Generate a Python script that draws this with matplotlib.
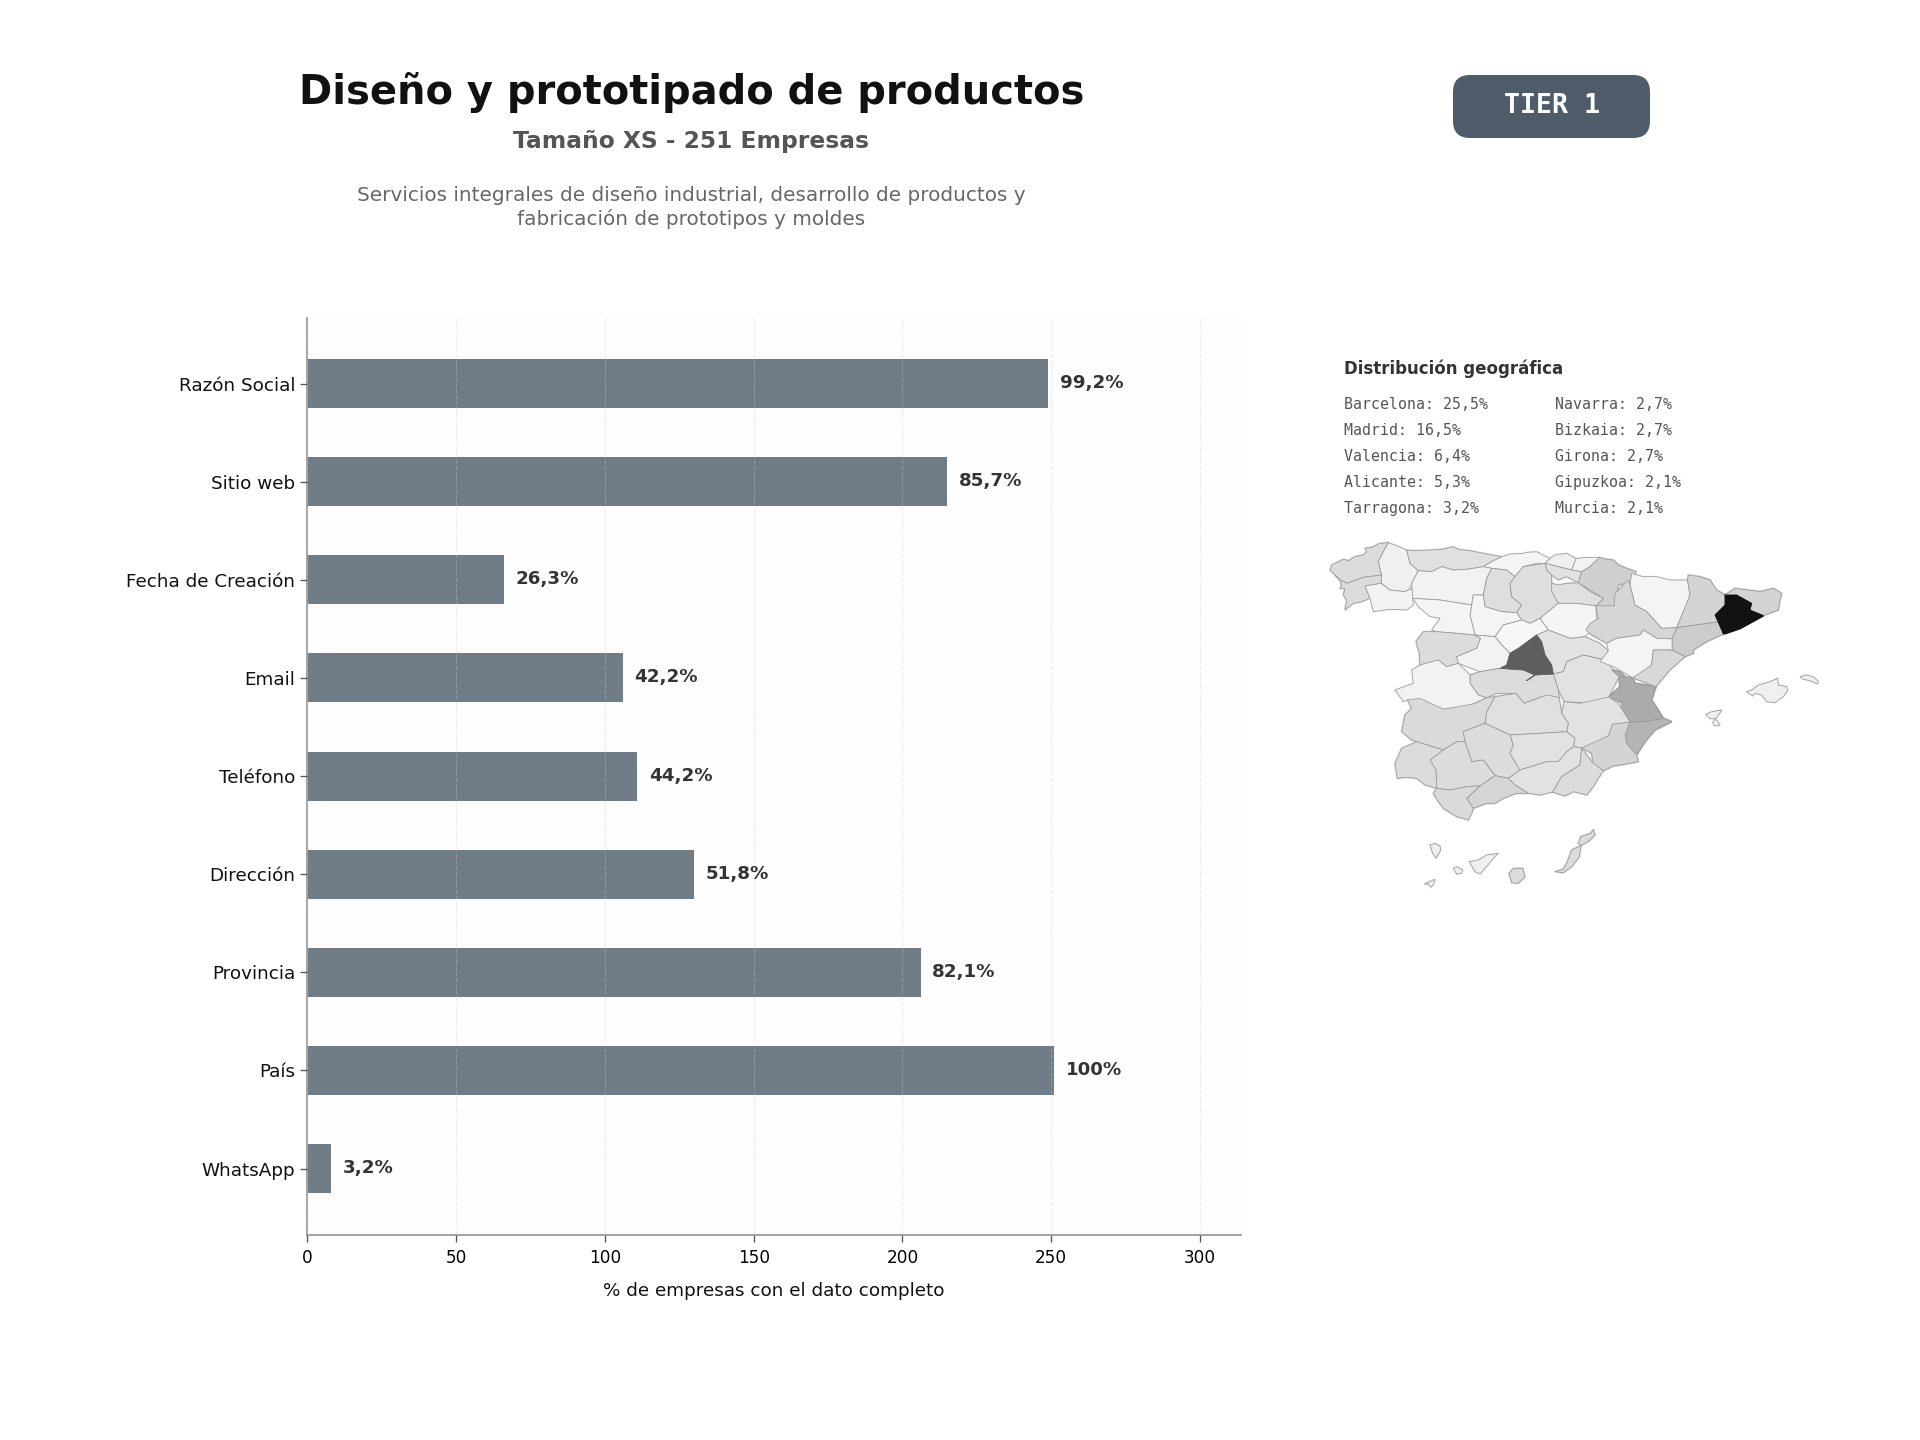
import math

import matplotlib
matplotlib.use("Agg")
import matplotlib.pyplot as plt
from matplotlib.patches import FancyBboxPatch, Polygon

TOTAL_COMPANIES = 251
FIELDS = ["Razón Social", "Sitio web", "Fecha de Creación", "Email", "Teléfono",
          "Dirección", "Provincia", "País", "WhatsApp"]
FIELD_PCT = [99.2, 85.7, 26.3, 42.2, 44.2, 51.8, 82.1, 100, 3.2]
FIELD_PCT_LABELS = ["99,2%", "85,7%", "26,3%", "42,2%", "44,2%", "51,8%", "82,1%", "100%", "3,2%"]
X_TICKS = [0, 50, 100, 150, 200, 250, 300]

GEO_LEFT = ["Barcelona: 25,5%", "Madrid: 16,5%", "Valencia: 6,4%", "Alicante: 5,3%", "Tarragona: 3,2%"]
GEO_RIGHT = ["Navarra: 2,7%", "Bizkaia: 2,7%", "Girona: 2,7%", "Gipuzkoa: 2,1%", "Murcia: 2,1%"]

# Province outlines were digitised on five overlapping map sheets.
# Each sheet has its own origin in map units and a scale of 3 sheet units per map unit.
SHEET_ORIGIN = {"nw": (10, 20), "s": (40, 190), "ne": (310, 60), "c": (200, 35), "se": (230, 160)}

PROVINCES = {
    "A Coruña": ("nw", [(60,150),(65,135),(85,125),(100,118),(115,122),(135,110),(160,105),(170,95),(165,85),(185,82),(210,70),(235,68),(220,95),(205,125),(215,165),(160,172),(110,190),(90,180),(75,165)]),
    "Lugo": ("nw", [(235,68),(255,75),(290,90),(300,130),(325,152),(305,190),(300,207),(285,215),(240,210),(215,190),(215,165),(205,125),(220,95)]),
    "Pontevedra": ("nw", [(75,165),(90,180),(110,190),(160,172),(215,165),(212,190),(165,198),(180,235),(155,245),(130,250),(105,270),(110,240),(100,225),(105,205),(90,205),(95,195),(85,175)]),
    "Ourense": ("nw", [(165,198),(212,190),(240,210),(285,215),(300,207),(335,215),(305,235),(310,255),(290,270),(240,268),(190,275),(180,235)]),
    "Asturias": ("nw", [(290,90),(320,92),(360,90),(395,88),(430,80),(445,88),(480,92),(520,100),(575,110),(545,125),(520,140),(470,148),(430,150),(395,140),(365,155),(325,152),(300,130)]),
    "Cantabria": ("nw", [(575,110),(600,102),(640,100),(650,97),(680,95),(695,103),(720,115),(705,130),(680,130),(640,140),(615,170),(590,150),(545,145),(520,140),(545,125)]),
    "Bizkaia": ("nw", [(720,115),(735,105),(770,100),(795,110),(800,118),(785,150),(745,140),(705,130)]),
    "Gipuzkoa": ("nw", [(800,118),(830,112),(865,108),(870,115),(840,140),(815,155),(785,150)]),
    "Álava": ("nw", [(705,130),(745,140),(785,150),(815,155),(805,185),(770,170),(745,180),(725,165),(710,150)]),
    "Navarra": ("nw", [(870,115),(890,118),(910,120),(925,135),(950,145),(978,155),(965,185),(925,195),(915,260),(880,265),(855,255),(880,235),(805,190),(815,155),(840,140)]),
    "La Rioja": ("nw", [(725,190),(745,195),(770,190),(805,190),(840,215),(880,235),(855,260),(800,250),(745,250),(725,215)]),
    "León": ("nw", [(325,152),(365,155),(395,140),(430,150),(470,148),(520,140),(545,145),(530,175),(520,225),(490,225),(485,255),(390,240),(310,235),(305,190)]),
    "Palencia": ("nw", [(545,145),(590,150),(615,170),(600,190),(605,230),(635,255),(620,278),(575,275),(525,260),(520,225),(530,175)]),
    "Burgos": ("nw", [(615,170),(640,140),(705,130),(710,150),(725,165),(725,215),(745,250),(690,295),(660,310),(635,300),(620,278),(635,255),(605,230),(600,190)]),
    "Valladolid": ("nw", [(490,225),(520,225),(525,260),(575,275),(620,278),(635,300),(580,315),(555,350),(495,345),(480,285),(485,255)]),
    "Zamora": ("nw", [(310,235),(390,240),(485,255),(480,285),(495,345),(440,340),(380,335),(365,330),(390,295),(360,290),(325,260)]),
    "Soria": ("nw", [(745,250),(800,250),(855,260),(860,315),(825,350),(780,355),(715,330),(690,295)]),
    "Segovia": ("nw", [(635,300),(660,310),(690,295),(715,330),(680,345),(625,385),(600,400),(575,375),(555,350),(580,315)]),
    "Salamanca": ("nw", [(340,335),(380,335),(440,340),(495,345),(512,355),(500,385),(440,410),(445,430),(410,440),(385,420),(330,435),(328,400),(318,365)]),
    "Ávila": ("nw", [(495,345),(555,350),(575,375),(600,400),(590,435),(570,445),(510,455),(445,430),(440,410),(500,385),(512,355)]),
    "Madrid": ("nw", [(680,345),(695,365),(705,405),(725,435),(730,462),(680,465),(650,482),(670,465),(640,450),(570,445),(590,435),(600,400),(625,385)]),
    "Guadalajara": ("nw", [(715,330),(780,355),(825,350),(870,370),(895,395),(885,420),(820,405),(770,425),(760,455),(730,462),(725,435),(705,405),(695,365),(680,345)]),
    "Cuenca": ("nw", [(770,425),(820,405),(885,420),(930,470),(895,525),(930,535),(850,550),(765,545),(745,510),(730,462),(760,455)]),
    "Toledo": ("nw", [(480,465),(510,455),(570,445),(640,450),(670,465),(650,482),(680,465),(730,462),(745,510),(745,535),(695,530),(640,550),(615,520),(560,520),(530,535),(505,525),(480,490)]),
    "Cáceres": ("nw", [(330,435),(385,420),(410,440),(445,430),(480,465),(480,490),(505,525),(530,535),(490,555),(460,565),(400,565),(340,555),(295,540),(280,545),(255,510),(310,490),(305,450)]),
    "Huesca": ("c", [(395,115),(430,125),(470,125),(510,135),(560,135),(570,175),(555,220),(525,275),(485,280),(440,230),(405,210),(390,150)]),
    "Zaragoza": ("c", [(295,210),(340,210),(345,175),(385,135),(390,150),(405,210),(440,230),(485,280),(530,280),(515,305),(470,310),(430,285),(420,300),(350,310),(320,325),(275,300),(258,285),(270,265),(295,250)]),
    "Teruel": ("c", [(320,325),(350,310),(420,300),(430,285),(470,310),(520,315),(515,345),(460,345),(455,385),(420,420),(400,430),(340,395),(300,380),(325,345)]),
    "Lleida": ("ne", [(235,45),(270,50),(300,60),(320,90),(345,105),(345,135),(315,165),(330,185),(205,210),(195,190),(240,110),(235,60)]),
    "Girona": ("ne", [(375,85),(415,90),(450,95),(490,85),(515,100),(510,120),(505,150),(460,165),(420,150),(425,130),(380,105),(345,105)]),
    "Barcelona": ("ne", [(345,105),(380,105),(425,130),(420,150),(460,168),(390,205),(340,222),(315,165),(345,135)]),
    "Tarragona": ("ne", [(205,210),(330,185),(340,222),(290,245),(250,270),(250,280),(225,290),(190,270),(185,240)]),
    "Castellón": ("ne", [(130,270),(185,270),(225,290),(180,330),(140,380),(70,350),(125,320)]),
    "Valencia": ("se", [(270,50),(305,55),(315,70),(375,80),(365,120),(400,175),(345,185),(300,185),(265,150),(280,130),(235,110),(270,80)]),
    "Rincón de Ademuz": ("se", [(245,30),(270,35),(285,50),(262,50)]),
    "Alicante": ("se", [(300,185),(345,185),(400,175),(425,185),(375,210),(345,245),(320,285),(290,250),(285,225)]),
    "Murcia": ("se", [(250,195),(265,185),(300,190),(285,225),(290,250),(320,285),(325,305),(300,310),(270,315),(250,318),(220,335),(190,320),(185,280),(155,260),(180,240),(235,230)]),
    "Albacete": ("s", [(670,35),(720,40),(810,28),(835,40),(870,95),(815,100),(805,135),(725,165),(700,170),(705,145),(680,125),(685,100),(665,70)]),
    "Ciudad Real": ("s", [(465,20),(530,10),(555,40),(620,15),(660,20),(665,70),(685,100),(680,125),(600,130),(510,135),(435,100),(440,65)]),
    "Badajoz": ("s", [(200,30),(240,25),(310,60),(395,40),(440,20),(465,20),(440,65),(435,100),(370,125),(375,155),(350,155),(310,180),(230,155),(215,150),(185,125),(195,75),(215,55)]),
    "Córdoba": ("s", [(370,125),(435,100),(510,135),(520,165),(510,190),(540,240),(505,265),(465,255),(430,210),(395,215),(375,155)]),
    "Jaén": ("s", [(510,135),(600,130),(680,125),(705,145),(700,170),(680,185),(655,215),(620,215),(540,240),(510,190),(520,165)]),
    "Granada": ("s", [(505,265),(540,240),(620,215),(655,215),(680,185),(700,170),(725,180),(720,225),(665,260),(640,305),(600,315),(565,310),(525,285)]),
    "Almería": ("s", [(725,180),(755,215),(790,240),(775,265),(760,290),(740,315),(700,305),(675,318),(635,308),(665,260),(720,225)]),
    "Málaga": ("s", [(380,290),(420,285),(465,260),(505,265),(525,285),(565,310),(530,310),(490,325),(465,340),(440,340),(400,355),(380,325),(420,290)]),
    "Sevilla": ("s", [(270,210),(310,180),(350,155),(375,155),(395,215),(430,210),(465,255),(420,285),(380,290),(330,300),(290,295),(288,240)]),
    "Huelva": ("s", [(165,220),(185,175),(230,155),(310,180),(270,210),(288,240),(290,295),(255,285),(230,265),(200,262),(172,265)]),
    "Cádiz": ("s", [(280,310),(290,295),(330,300),(380,290),(420,290),(380,325),(400,355),(395,370),(385,390),(350,380),(310,355),(295,335)]),
    "Mallorca": ("ne", [(410,395),(425,390),(445,375),(480,365),(503,355),(505,375),(530,380),(533,392),(520,410),(495,428),(470,425),(455,405),(435,400),(428,408)]),
    "Menorca": ("ne", [(570,350),(590,345),(610,350),(625,365),(622,372),(600,362),(580,358)]),
    "Ibiza": ("ne", [(288,463),(305,455),(335,450),(328,462),(315,472),(300,476)]),
    "Formentera": ("ne", [(308,488),(318,480),(330,495),(315,498)]),
    "La Palma": ("s", [(270,465),(285,460),(300,468),(302,480),(288,505),(278,490)]),
    "El Hierro": ("s", [(253,582),(268,575),(285,568),(280,585),(272,592),(265,582)]),
    "La Gomera": ("s", [(340,535),(352,530),(368,540),(365,550),(350,552)]),
    "Tenerife": ("s", [(388,515),(415,510),(440,495),(475,490),(460,505),(440,530),(420,552),(405,545)]),
    "Gran Canaria": ("s", [(507,550),(520,535),(548,535),(555,560),(535,580),(515,578)]),
    "Fuerteventura": ("s", [(645,545),(668,538),(680,520),(695,480),(722,470),(718,500),(695,530),(670,548)]),
    "Lanzarote": ("s", [(715,460),(722,440),(752,430),(760,418),(765,435),(745,455),(725,462)]),
}

PROVINCE_SHADE = {
    "A Coruña": "#dcdcdc", "Lugo": "#f0f0f0", "Pontevedra": "#dcdcdc", "Ourense": "#f2f2f2",
    "Asturias": "#e0e0e0", "Cantabria": "#f4f4f4", "Bizkaia": "#f0f0f0", "Gipuzkoa": "#f2f2f2",
    "Álava": "#e2e2e2", "Navarra": "#cfcfcf", "La Rioja": "#e0e0e0", "León": "#f2f2f2",
    "Palencia": "#dedede", "Burgos": "#dedede", "Valladolid": "#f4f4f4", "Zamora": "#f4f4f4",
    "Soria": "#f5f5f5", "Segovia": "#f6f6f6", "Salamanca": "#dcdcdc", "Ávila": "#f2f2f2",
    "Madrid": "#5e5e5e", "Guadalajara": "#e2e2e2", "Cuenca": "#e2e2e2", "Toledo": "#dcdcdc",
    "Cáceres": "#f2f2f2", "Huesca": "#f4f4f4", "Zaragoza": "#d6d6d6", "Teruel": "#f4f4f4",
    "Lleida": "#d4d4d4", "Girona": "#d4d4d4", "Barcelona": "#111111", "Tarragona": "#cccccc",
    "Castellón": "#d8d8d8", "Valencia": "#ababab", "Rincón de Ademuz": "#ababab",
    "Alicante": "#b4b4b4", "Murcia": "#d4d4d4", "Albacete": "#e2e2e2", "Ciudad Real": "#e0e0e0",
    "Badajoz": "#dadada", "Córdoba": "#dcdcdc", "Jaén": "#e2e2e2", "Granada": "#e2e2e2",
    "Almería": "#dcdcdc", "Málaga": "#d6d6d6", "Sevilla": "#dcdcdc", "Huelva": "#dcdcdc",
    "Cádiz": "#dadada", "Mallorca": "#f0f0f0", "Menorca": "#f0f0f0", "Ibiza": "#f0f0f0",
    "Formentera": "#f0f0f0", "La Palma": "#efefef", "El Hierro": "#efefef", "La Gomera": "#efefef",
    "Tenerife": "#efefef", "Gran Canaria": "#dcdcdc", "Fuerteventura": "#dcdcdc", "Lanzarote": "#dcdcdc",
}

W, H = 1920, 1440
fig = plt.figure(figsize=(W / 160, H / 160), dpi=160, facecolor="white")


def fx(px):
    return px / W


def fy(py):
    return 1 - py / H


def add_axes_px(left, top, right, bottom):
    return fig.add_axes([fx(left), fy(bottom), (right - left) / W, (bottom - top) / H])


def weld_outlines(outlines, radius):
    """Merge vertices of different provinces that lie within radius, so borders coincide."""
    vertices = [(name, i, pt) for name, pts in outlines.items() for i, pt in enumerate(pts)]
    parent = list(range(len(vertices)))

    def find(k):
        while parent[k] != k:
            parent[k] = parent[parent[k]]
            k = parent[k]
        return k

    for a in range(len(vertices)):
        for b in range(a + 1, len(vertices)):
            if vertices[a][0] != vertices[b][0] and math.dist(vertices[a][2], vertices[b][2]) < radius:
                parent[find(a)] = find(b)
    clusters = {}
    for k, vertex in enumerate(vertices):
        clusters.setdefault(find(k), []).append(vertex)
    welded = {name: list(pts) for name, pts in outlines.items()}
    for members in clusters.values():
        cx = sum(m[2][0] for m in members) / len(members)
        cy = sum(m[2][1] for m in members) / len(members)
        for name, i, _ in members:
            welded[name][i] = (cx, cy)
    return welded


# Header
fig.text(fx(692), fy(92.6), "Diseño y prototipado de productos", ha="center", va="center",
         fontsize=18, fontweight="bold", color="#111111")
fig.text(fx(691), fy(141.5), f"Tamaño XS - {TOTAL_COMPANIES} Empresas", ha="center", va="center",
         fontsize=10.5, fontweight="bold", color="#555555")
fig.text(fx(691), fy(207.5), "Servicios integrales de diseño industrial, desarrollo de productos y\n"
         "fabricación de prototipos y moldes", ha="center", va="center",
         fontsize=9, color="#666666", linespacing=1.2)

# Tier badge
bg = fig.add_axes([0, 0, 1, 1], facecolor="none")
bg.set_xlim(0, W)
bg.set_ylim(H, 0)
bg.axis("off")
bg.add_patch(FancyBboxPatch((1467, 89), 169, 35, boxstyle="round,pad=14,rounding_size=17",
                            facecolor="#4f5d6b", edgecolor="none"))
bg.text(1552, 106, "TIER 1", ha="center", va="center", color="white", fontsize=12,
        fontweight="bold", family="DejaVu Sans Mono")

# Completeness bars
ax = add_axes_px(307.3, 318, 1241, 1235.3)
ax.set_facecolor("#fdfdfd")
widths = [p * TOTAL_COMPANIES / 100 for p in FIELD_PCT]
positions = list(range(len(FIELDS)))
ax.barh(positions, widths, height=0.5, color="#707c86")
for pos, width, label in zip(positions, widths, FIELD_PCT_LABELS):
    ax.text(width + 3.9, pos - 0.005, label, va="center", ha="left", fontsize=8.2,
            fontweight="bold", color="#333333")
ax.set_xlim(0, 313.75)
ax.set_ylim(8.68, -0.668)
ax.set_yticks(positions, FIELDS, fontsize=8.25, color="#111111")
ax.set_xticks(X_TICKS)
ax.tick_params(axis="x", labelsize=7.6, length=3, width=0.6, color="#555555", pad=3)
ax.tick_params(axis="y", length=3, width=0.6, color="#555555", pad=2.5)
ax.set_xlabel("% de empresas con el dato completo", fontsize=8.27, color="#111111", labelpad=7)
ax.xaxis.grid(True, linestyle="--", linewidth=0.5, color="#cccccc", alpha=0.35)
ax.set_axisbelow(False)
for side in ("top", "right"):
    ax.spines[side].set_visible(False)
for side in ("left", "bottom"):
    ax.spines[side].set_color("#999999")
    ax.spines[side].set_linewidth(0.8)

# Geographic summary
fig.text(fx(1344), fy(369), "Distribución geográfica", ha="left", va="center",
         fontsize=7.5, fontweight="bold", color="#333333")
for column_x, rows in ((1344, GEO_LEFT), (1555, GEO_RIGHT)):
    for row, line in enumerate(rows):
        fig.text(fx(column_x), fy(404.5 + 26 * row), line, ha="left", va="center",
                 fontsize=6.7, family="DejaVu Sans Mono", color="#555555")

# Province map, in map units
map_ax = add_axes_px(1300, 500, 1840, 920)
map_ax.set_xlim(0, 540)
map_ax.set_ylim(420, 0)
map_ax.axis("off")
outlines = {}
for name, (sheet, outline) in PROVINCES.items():
    ox, oy = SHEET_ORIGIN[sheet]
    outlines[name] = [(ox + x / 3, oy + y / 3) for x, y in outline]
outlines = weld_outlines(outlines, 3.5)
# A fill-coloured underlay closes hairline slits where borders do not share vertices.
for name, points in outlines.items():
    shade = PROVINCE_SHADE[name]
    map_ax.add_patch(Polygon(points, closed=True, facecolor=shade, edgecolor=shade, linewidth=1.0))
for name, points in outlines.items():
    shade = PROVINCE_SHADE[name]
    edge = shade if name in ("Barcelona", "Madrid") else "#999999"
    map_ax.add_patch(Polygon(points, closed=True, facecolor=shade, edgecolor=edge, linewidth=0.35,
                             zorder=3 if name in ("Barcelona", "Madrid") else 2))

fig.savefig("out.png", dpi=160, facecolor="white")
